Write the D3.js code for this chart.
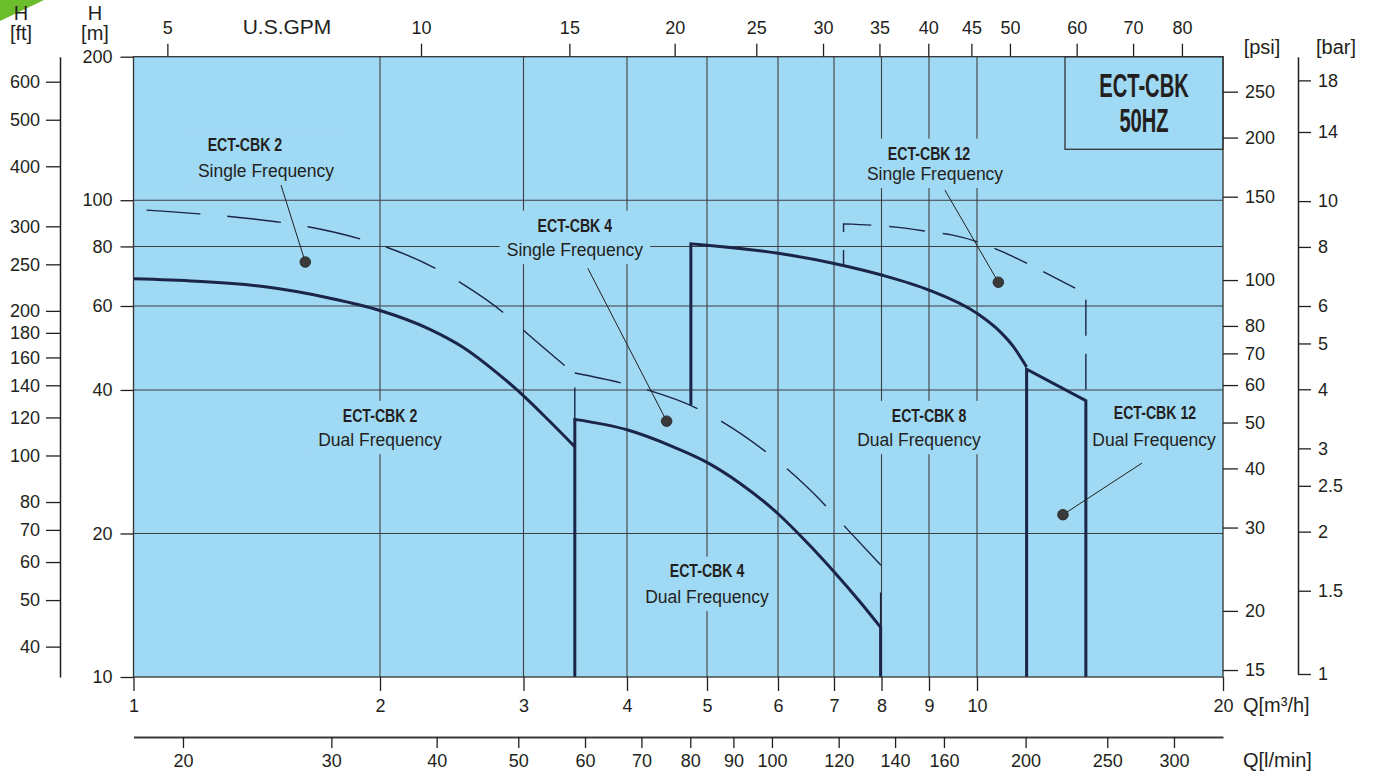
<!DOCTYPE html>
<html>
<head>
<meta charset="utf-8">
<script src="https://cdn.jsdelivr.net/npm/d3@7/dist/d3.min.js"></script>
<style>
  body { margin: 0; background: #fff; }
  svg text { font-family: "Liberation Sans", Arial, Helvetica, sans-serif; fill: #231f20; }
</style>
</head>
<body>
<svg id="chart" width="1376" height="774"></svg>
<script>
// tick values of every axis
var flowTicks = [1, 2, 3, 4, 5, 6, 7, 8, 9, 10, 20];             // Q [m3/h]
var headTicks = [10, 20, 40, 60, 80, 100, 200];                    // H [m]
var headGrid = [20, 40, 60, 80, 100];
var feetTicks = [40, 50, 60, 70, 80, 100, 120, 140, 160, 180, 200, 250, 300, 400, 500, 600];
var psiTicks = [15, 20, 30, 40, 50, 60, 70, 80, 100, 150, 200, 250];
var barTicks = [1, 1.5, 2, 2.5, 3, 4, 5, 6, 8, 10, 14, 18];
var gpmTicks = [5, 10, 15, 20, 25, 30, 35, 40, 45, 50, 60, 70, 80];
var lminTicks = [20, 30, 40, 50, 60, 70, 80, 90, 100, 120, 140, 160, 200, 250, 300];

// pump curves, [Q m3/h, H m]
var cbk2DualCurve = [[1, 68.4], [1.194, 67.6], [1.44, 65.9], [1.738, 62.3], [2, 58.7], [2.303, 53.6],
  [2.531, 49.1], [2.781, 43.5], [2.946, 40.0], [3.201, 34.85], [3.46, 30.4]];
var cbk4DualLead = [[3.46, 10]];
var cbk4DualCurve = [[3.46, 34.7], [4, 33.0], [4.55, 30.4], [5, 28.2], [5.44, 25.5], [6, 22.0],
  [6.49, 19.2], [7, 16.63], [7.53, 14.38], [7.98, 12.71]];
var cbk4DualTail = [[7.98, 10]];
var cbk8DualLead = [[4.78, 37.2]];
var cbk8DualCurve = [[4.78, 81.0], [5, 80.5], [6, 77.4], [7, 73.7], [8, 69.7], [9, 64.8], [10, 57.9],
  [10.67, 53.0], [11.08, 49.3], [11.5, 44.7]];
var cbk12DualLine = [[11.5, 10], [11.5, 44.2], [13.59, 38.0], [13.59, 10]];

var cbk2SingleCurve = [[1, 95.7], [1.206, 93.6], [1.403, 91.3], [1.634, 88.0], [1.9, 82.8], [2.046, 79.5],
  [2.349, 71.7], [2.519, 66.9], [2.852, 57.6], [3.021, 52.8], [3.46, 43.2]];
var cbk2SingleTail = [[3.46, 34.7]];
var cbk4SingleCurve = [[3.46, 43.4], [3.93, 41.4], [4.233, 40.0], [4.88, 36.5], [5.2, 34.3], [5.84, 29.5],
  [6.17, 27.2], [6.87, 22.7], [7.25, 20.5], [7.98, 17.18]];
var cbk4SingleTail = [[7.98, 12.71]];
var cbk12SingleLead = [[7.19, 73.1]];
var cbk12SingleCurve = [[7.19, 89.2], [7.97, 88.4], [8.34, 87.7], [9.1, 85.6], [9.48, 84.5], [10.28, 80.5],
  [10.79, 77.7], [11.83, 72.0], [12.4, 69.1], [13.59, 63.6]];
var cbk12SingleTail = [[13.59, 38.0]];

// curve labels, anchored in [Q, H]
var labelNames = ["ECT-CBK 2", "ECT-CBK 4", "ECT-CBK 12", "ECT-CBK 2", "ECT-CBK 4", "ECT-CBK 8", "ECT-CBK 12"];
var labelModes = ["Single Frequency", "Single Frequency", "Single Frequency", "Dual Frequency",
  "Dual Frequency", "Dual Frequency", "Dual Frequency"];
var nameAt = [[1.368, 130.6], [3.46, 88.7], [9, 125.6], [2, 35.4], [5, 16.69], [9, 35.4], [16.51, 35.96]];
var modeAt = [[1.4515, 115.1], [3.46, 78.6], [9.12, 113.5], [2, 31.4], [5, 14.72], [8.78, 31.4], [16.47, 31.4]];
var pointerFrom = [[1.514, 107.6], [3.587, 72.0], [9.32, 105.0], null, null, null, [15.92, 28.1]];
var pointerTo = [[1.621, 74.2], [4.468, 34.4], [10.62, 67.3], null, null, null, [12.74, 21.9]];

var titleLines = ["ECT-CBK", "50HZ"];

var svg = d3.select("#chart");
var plotLeft = 133.5, plotRight = 1223, plotTop = 56.7, plotBottom = 677;
var blue = "#a0d9f4", ink = "#231f20", navy = "#1a2547";

// the printed Q grid is not an even log grid, so the flow scale is piecewise log
var qGridPx = [133.5, 380, 523.5, 627, 707, 778, 834, 881.5, 929, 977, 1223];
var x = d3.scaleLog().domain(flowTicks).range(qGridPx);
var y = d3.scaleLog().domain([10, 200]).range([plotBottom, plotTop]);
var yFt = d3.scaleLog().domain([34.58, 676.4]).range([plotBottom, plotTop]);
var yPsi = d3.scaleLog().domain([14.5, 296.4]).range([plotBottom, plotTop]);
var yBar = d3.scaleLog().domain([1, 20.2]).range([674, plotTop]);
var xGpm = d3.scaleLog().domain([4.558, 89.5]).range([plotLeft, plotRight]);
var xLmin = d3.scaleLog().domain([17.47, 343]).range([plotLeft, plotRight]);

// green corner
svg.append("polygon").attr("points", "0,0 44,0 0,21").attr("fill", "#6cbd2c");

// plot area
svg.append("rect")
  .attr("x", plotLeft).attr("y", plotTop)
  .attr("width", plotRight - plotLeft).attr("height", plotBottom - plotTop)
  .attr("fill", blue);

var grid = svg.append("g").attr("stroke", "#3e3e3e").attr("stroke-width", 1.1);
grid.selectAll(".vgrid").data(flowTicks.slice(1, -1)).enter().append("line").attr("class", "vgrid")
  .attr("x1", d => x(d)).attr("x2", d => x(d)).attr("y1", plotTop).attr("y2", plotBottom);
grid.selectAll(".hgrid").data(headGrid).enter().append("line").attr("class", "hgrid")
  .attr("x1", plotLeft).attr("x2", plotRight).attr("y1", d => y(d)).attr("y2", d => y(d));

// labels sit on a patch of plot colour so the grid breaks behind them
var notes = svg.append("g");
labelNames.forEach(function(name, i) {
  var g = notes.append("g");
  var n = nameAt[i], m = modeAt[i];
  g.append("text")
    .attr("transform", "translate(" + x(n[0]) + "," + y(n[1]) + ") scale(0.76,1)")
    .attr("text-anchor", "middle").attr("dy", "0.35em")
    .style("font-weight", "bold").style("font-size", "18.6px")
    .text(name);
  g.append("text")
    .attr("x", x(m[0])).attr("y", y(m[1]))
    .attr("text-anchor", "middle").attr("dy", "0.35em")
    .style("font-size", "17.5px")
    .text(labelModes[i]);
  var b = g.node().getBBox();
  g.insert("rect", "text")
    .attr("x", b.x - 7).attr("y", b.y - 4)
    .attr("width", b.width + 14).attr("height", b.height + 8)
    .attr("fill", blue);
});

// curves
var smooth = d3.line().x(d => x(d[0])).y(d => y(d[1])).curve(d3.curveMonotoneX);
var straight = d3.line().x(d => x(d[0])).y(d => y(d[1]));

function curvePath(lead, curve, tail) {
  var s = smooth(curve);
  var out = lead.length ? "M" + lead.map(p => x(p[0]) + "," + y(p[1])).join("L") + "L" + s.slice(1) : s;
  tail.forEach(function(p) { out += "L" + x(p[0]) + "," + y(p[1]); });
  return out;
}

var series = [
  { d: curvePath([], cbk2DualCurve, []), dash: null },
  { d: curvePath(cbk4DualLead, cbk4DualCurve, cbk4DualTail), dash: null },
  { d: curvePath(cbk8DualLead, cbk8DualCurve, []), dash: null },
  { d: straight(cbk12DualLine), dash: null },
  { d: curvePath([], cbk2SingleCurve, cbk2SingleTail), dash: "54,27", off: 68 },
  { d: curvePath([], cbk4SingleCurve, cbk4SingleTail), dash: "54,27", off: 7 },
  { d: curvePath(cbk12SingleLead, cbk12SingleCurve, cbk12SingleTail), dash: "36,18", off: 21 }
];

svg.append("g").selectAll("path").data(series).enter().append("path")
  .attr("d", s => s.d)
  .attr("fill", "none")
  .attr("stroke", navy)
  .attr("stroke-width", s => s.dash ? 1.4 : 3)
  .attr("stroke-linejoin", "miter")
  .attr("stroke-dasharray", s => s.dash)
  .attr("stroke-dashoffset", s => s.dash ? s.off : null);

// pointers
var pointers = d3.range(labelNames.length).filter(i => pointerFrom[i]);
svg.append("g").selectAll("line").data(pointers).enter().append("line")
  .attr("x1", i => x(pointerFrom[i][0])).attr("y1", i => y(pointerFrom[i][1]))
  .attr("x2", i => x(pointerTo[i][0])).attr("y2", i => y(pointerTo[i][1]))
  .attr("stroke", ink).attr("stroke-width", 1);
svg.append("g").selectAll("circle").data(pointers).enter().append("circle")
  .attr("cx", i => x(pointerTo[i][0])).attr("cy", i => y(pointerTo[i][1]))
  .attr("r", 5.3).attr("fill", "#3a3a3a").attr("stroke", "#1e1e1e").attr("stroke-width", 0.8);

// title box
svg.append("rect")
  .attr("x", 1065).attr("y", plotTop).attr("width", plotRight - 1065).attr("height", 92.6)
  .attr("fill", "none").attr("stroke", "#333").attr("stroke-width", 1.3);
titleLines.forEach(function(s, i) {
  svg.append("text")
    .attr("transform", "translate(1144," + (96.7 + 35 * i) + ") scale(0.62,1)")
    .attr("text-anchor", "middle")
    .style("font-weight", "bold").style("font-size", "32.5px")
    .text(s);
});

// plot frame
svg.append("rect")
  .attr("x", plotLeft).attr("y", plotTop)
  .attr("width", plotRight - plotLeft).attr("height", plotBottom - plotTop)
  .attr("fill", "none").attr("stroke", "#333").attr("stroke-width", 1.3);

// axes
function styleAxis(g, size) {
  g.attr("font-size", size).attr("font-family", null).attr("color", ink);
  g.selectAll(".tick line").attr("stroke-width", 1.3);
  g.selectAll(".tick text").style("font-size", size + "px");
}
var fmt = d => d;

svg.append("g").attr("transform", "translate(0," + plotTop + ")")
  .call(d3.axisTop(xGpm).tickValues(gpmTicks).tickFormat(fmt).tickSize(13).tickPadding(10))
  .call(g => g.select(".domain").remove())
  .call(styleAxis, 18);

svg.append("g").attr("transform", "translate(0," + plotBottom + ")")
  .call(d3.axisBottom(x).tickValues(flowTicks).tickFormat(fmt).tickSize(14).tickPadding(8))
  .call(g => g.select(".domain").remove())
  .call(styleAxis, 18);

svg.append("g").attr("transform", "translate(0,737)")
  .call(d3.axisBottom(xLmin).tickValues(lminTicks).tickFormat(fmt).tickSize(11).tickSizeOuter(0).tickPadding(6))
  .call(styleAxis, 18)
  .call(g => g.select(".domain").attr("stroke", "#3a3a3a").attr("stroke-width", 2));

svg.append("g").attr("transform", "translate(" + plotLeft + ",0)")
  .call(d3.axisLeft(y).tickValues(headTicks).tickFormat(fmt).tickSize(13).tickPadding(8))
  .call(g => g.select(".domain").remove())
  .call(styleAxis, 18);

svg.append("g").attr("transform", "translate(60,0)")
  .call(d3.axisLeft(yFt).tickValues(feetTicks).tickFormat(fmt).tickSize(14).tickSizeOuter(0).tickPadding(6))
  .call(styleAxis, 18)
  .call(g => g.select(".domain").attr("stroke-width", 1.5));

svg.append("g").attr("transform", "translate(" + plotRight + ",0)")
  .call(d3.axisRight(yPsi).tickValues(psiTicks).tickFormat(fmt).tickSize(15).tickPadding(7))
  .call(g => g.select(".domain").remove())
  .call(styleAxis, 18);

svg.append("g").attr("transform", "translate(1298,0)")
  .call(d3.axisRight(yBar).tickValues(barTicks).tickFormat(fmt).tickSize(13).tickSizeOuter(0).tickPadding(7))
  .call(styleAxis, 18)
  .call(g => g.select(".domain").attr("stroke-width", 1.5));

// axis titles
var titles = [
  ["H", 21, 13, "middle"], ["[ft]", 21, 33, "middle"],
  ["H", 95, 13, "middle"], ["[m]", 95, 33, "middle"],
  ["[psi]", 1262, 47, "middle"], ["[bar]", 1336, 47, "middle"],
  ["U.S.GPM", 287, 27, "middle"],
  ["Q[m³/h]", 1243, 705, "start"], ["Q[l/min]", 1243, 760, "start"]
];
svg.append("g").selectAll("text").data(titles).enter().append("text")
  .attr("x", t => t[1]).attr("y", t => t[2]).attr("dy", "0.35em")
  .attr("text-anchor", t => t[3])
  .style("font-size", t => t[0] === "U.S.GPM" ? "21px" : "20px")
  .text(t => t[0]);
</script>
</body>
</html>
